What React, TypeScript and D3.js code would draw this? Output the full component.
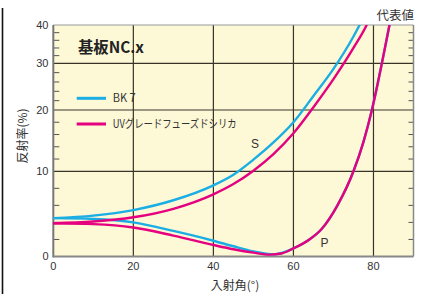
import React from "react";
import * as d3 from "d3";

// Data: [incidence angle (deg), reflectance (%)]
const bk7S: [number, number][] = [
  [0, 4.5], [10, 4.8], [20, 5.45], [30, 6.6], [40, 8.35], [45, 9.6], [50, 11.9],
  [55, 14.7], [60, 18], [65, 23], [70, 28.8], [75, 37], [78, 43],
];
const bk7P: [number, number][] = [
  [0, 4.5], [10, 4.4], [20, 4.0], [30, 3.0], [40, 1.85], [45, 1.2], [50, 0.6],
  [55, 0.25], [60, 0.95], [64, 2.0], [67, 3.2], [71, 6.0], [75, 10], [77.5, 14.8],
  [79.6, 20], [82.1, 30], [84, 40], [85, 45],
];
const silicaS: [number, number][] = [
  [0, 3.9], [10, 4.1], [20, 4.6], [30, 5.6], [40, 7.3], [45, 8.5], [50, 10.1],
  [55, 12.8], [60, 16.2], [65, 20.6], [70, 26.6], [75, 34], [78.3, 40], [80, 44],
];
const silicaP: [number, number][] = [
  [0, 3.9], [10, 3.8], [20, 3.4], [30, 2.45], [40, 1.35], [45, 0.85], [50, 0.45],
  [54, 0.22], [57, 0.35], [60, 0.95], [64, 2.0], [67, 3.2], [71, 6.0], [75, 10],
  [77.5, 14.8], [79.6, 20], [82.1, 30], [84, 40], [85, 45],
];

const xTicks = [0, 20, 40, 60, 80];
const yTicks = [0, 10, 20, 30, 40];
const yMinorTicks = [2, 4, 6, 8, 12, 14, 16, 18, 22, 24, 26, 28, 32, 34, 36, 38];

const legendItems = [
  { label: "BK 7", color: "#1aaee5", width: 23 },
  { label: "UVグレードフューズドシリカ", color: "#e4007f", width: 124 },
];

const BLUE = "#1aaee5";
const PINK = "#e4007f";

export default function App() {
  const left = 53.3, right = 413.5, top = 25, bottom = 256.5;
  const x = d3.scaleLinear().domain([0, 90]).range([left, right]);
  const y = d3.scaleLinear().domain([0, 10, 20, 30, 40]).range([bottom, 171.3, 110, 63.3, top]);
  const line = d3
    .line<[number, number]>()
    .x((d) => x(d[0]))
    .y((d) => y(d[1]))
    .curve(d3.curveMonotoneX);

  const font = "'Liberation Sans', Arial, Helvetica, sans-serif";
  const jfont = "'Noto Sans CJK JP', 'Liberation Sans', sans-serif";

  return (
    <svg
      width={424}
      height={294}
      style={{ position: "absolute", left: 0, top: 0, background: "#fff" }}
    >
      <defs>
        <clipPath id="plotClip">
          <rect x={left} y={top} width={right - left} height={bottom - top} />
        </clipPath>
      </defs>
      {/* page border line */}
      <line x1={2.5} x2={2.5} y1={8} y2={294} stroke="#111" strokeWidth={1.6} />

      {/* plot background */}
      <rect x={left} y={top} width={right - left} height={bottom - top} fill="#fdf8d6" />

      {/* grid */}
      {xTicks.filter((t) => t > 0).map((t) => (
        <line key={"gx" + t} x1={x(t)} x2={x(t)} y1={top} y2={bottom} stroke="#3a3428" strokeWidth={1.2} />
      ))}
      {yTicks.filter((t) => t > 0 && t < 40).map((t) => (
        <line key={"gy" + t} x1={left} x2={right} y1={y(t)} y2={y(t)} stroke="#3a3428" strokeWidth={1.2} />
      ))}

      {/* minor ticks */}
      {yMinorTicks.map((t) => (
        <g key={"mt" + t}>
          <line x1={left} x2={left + 6} y1={y(t)} y2={y(t)} stroke="#555" strokeWidth={1} />
          <line x1={right - 5} x2={right} y1={y(t)} y2={y(t)} stroke="#555" strokeWidth={1} />
        </g>
      ))}

      {/* frame */}
      <line x1={left} x2={right} y1={top} y2={top} stroke="#999" strokeWidth={1} />
      <line x1={right} x2={right} y1={top} y2={bottom} stroke="#888" strokeWidth={1.5} />
      <line x1={left} x2={left} y1={top} y2={bottom + 1} stroke="#777" strokeWidth={2} />
      <line x1={left} x2={right} y1={bottom} y2={bottom} stroke="#888" strokeWidth={2} />

      {/* curves */}
      <g clipPath="url(#plotClip)" fill="none" strokeWidth={2.4} strokeLinecap="round">
        <path d={line(bk7S) || ""} stroke={BLUE} />
        <path d={line(bk7P) || ""} stroke={BLUE} />
        <path d={line(silicaS) || ""} stroke={PINK} />
        <path d={line(silicaP) || ""} stroke={PINK} />
      </g>

      {/* y tick labels */}
      {yTicks.map((t) => (
        <text key={"yl" + t} x={48.5} y={y(t)} dy="0.35em" textAnchor="end" fontSize={11} fontFamily={font} fill="#333">
          {t}
        </text>
      ))}
      {/* x tick labels */}
      {xTicks.map((t) => (
        <text key={"xl" + t} x={x(t)} y={270} textAnchor="middle" fontSize={11} fontFamily={font} fill="#333">
          {t}
        </text>
      ))}

      {/* axis titles */}
      <text x={235} y={290} textAnchor="middle" fontSize={12} fontFamily={jfont} fill="#333">
        入射角(°)
      </text>
      <text
        transform="translate(27,136) rotate(-90)"
        textAnchor="middle"
        fontSize={12}
        fontFamily={jfont}
        fill="#333"
      >
        反射率(%)
      </text>

      {/* title */}
      <text x={78} y={53} fontSize={16} fontWeight="bold" fontFamily={jfont} fill="#222" textLength={66} lengthAdjust="spacingAndGlyphs">
        基板NC.x
      </text>

      {/* legend */}
      {legendItems.map((d, i) => (
        <g key={d.label} transform={`translate(0,${98.3 + i * 25.7})`}>
          <line x1={76.7} x2={106} y1={0} y2={0} stroke={d.color} strokeWidth={3} />
          <text x={112.7} y={0} dy="0.36em" fontSize={11.5} fontFamily={jfont} fill="#333" textLength={d.width} lengthAdjust="spacingAndGlyphs">
            {d.label}
          </text>
        </g>
      ))}

      {/* curve labels */}
      <text x={255} y={144} dy="0.36em" textAnchor="middle" fontSize={12} fontFamily={font} fill="#333">S</text>
      <text x={324.5} y={243} dy="0.36em" textAnchor="middle" fontSize={12} fontFamily={font} fill="#333">P</text>
      <text x={414} y={15} dy="0.36em" textAnchor="end" fontSize={12.5} fontFamily={jfont} fill="#333">代表値</text>
    </svg>
  );
}
